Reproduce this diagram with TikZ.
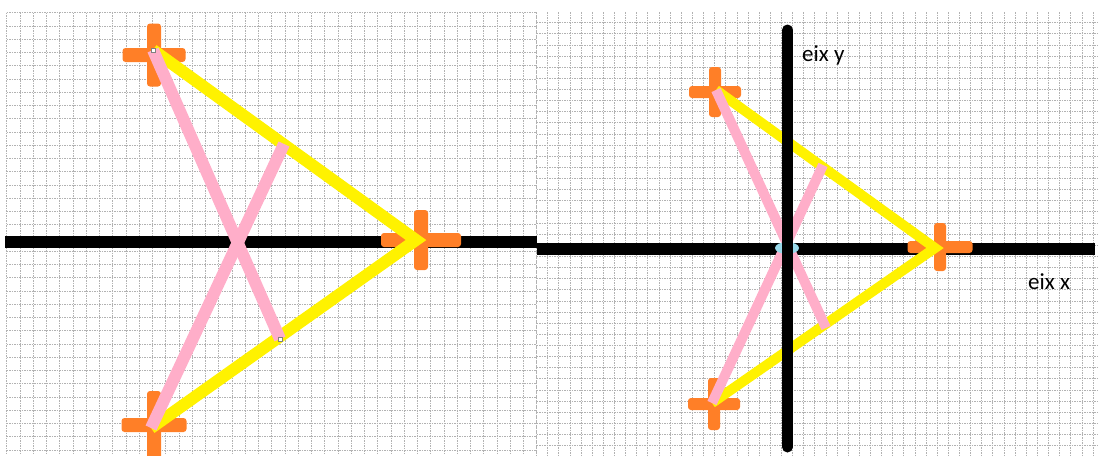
\documentclass[tikz,border=0pt]{standalone}
\usepackage{fontspec}
\setmainfont{Carlito}
\definecolor{paintorange}{HTML}{FF7F27}
\definecolor{paintyellow}{HTML}{FFF200}
\definecolor{paintpink}{HTML}{FFAEC9}
\definecolor{paintcyan}{HTML}{99D9EA}
\tikzset{
  gridline/.style={gray!60,line width=0.9pt,dash pattern=on 1.5pt off 1pt},
  axisline/.style={black,line width=#1},
  sideline/.style={paintyellow,line width=#1},
  medianline/.style={paintpink,line width=#1},
  marker/.style={draw=gray,fill=white,line width=0.8pt,minimum size=4pt,inner sep=0pt},
  axislabel/.style={anchor=base west,inner sep=0pt,font=\fontsize{23}{27}\selectfont},
}

\NewDocumentCommand{\paintcross}{mmmO{14}}{%
\begin{scope}[shift={(#1)}]%
\fill[paintorange,rounded corners=3pt] (-#2/2,-#4/2) rectangle (#2/2,#4/2);
\fill[paintorange,rounded corners=3pt] (-#4/2,-#3/2) rectangle (#4/2,#3/2);
\end{scope}%
}

\begin{document}
\begin{tikzpicture}[x=1pt,y=-1pt]
        \useasboundingbox (0,0) rectangle (1102,455);

        % Left grid.
        \foreach \i in {0,...,40} {\draw[gridline] (6.7+13.25*\i,12.7) -- (6.7+13.25*\i,455);}
        \foreach \j in {0,...,33} {\draw[gridline] (6.7,12.7+13.25*\j) -- (536.7,12.7+13.25*\j);}
        % Right grid.
        \foreach \i in {0,...,50} {\draw[gridline] (536.6+11.13*\i,12) -- (536.6+11.13*\i,455);}
        \foreach \j in {0,...,38} {\draw[gridline] (536.6,22.7+11.13*\j) -- (1099,22.7+11.13*\j);}

        % Left axis.
        \draw[axisline=12pt] (5,242) -- (537,242);

        % Left triangle.
        \coordinate (la) at (153,50);
        \coordinate (lb) at (416,240);
        \coordinate (lc) at (151,428);
        \coordinate (lab) at (284,144);
        \coordinate (lbc) at (280,339);
        \paintcross{154,55}{63}{63}
        \paintcross{421,240}{80}{60}
        \paintcross{154,425}{65}{68}
        \draw[sideline=12pt] (la) -- (lb) -- (lc);
        \draw[medianline=12pt] (la) -- (lbc);
        \draw[medianline=12pt] (lc) -- (lab);
        \node[marker] (lam) at (la) {};
        \node[marker] (lbcm) at (lbc) {};

        % Right axes and triangle.
        \draw[axisline=12pt] (537,249) -- (1095,249);
        \coordinate (ra) at (716,90);
        \coordinate (rb) at (935,248);
        \coordinate (rc) at (712,403);
        \coordinate (rab) at (823,165);
        \coordinate (rbc) at (826,328);
        \paintcross{715,92}{52}{50}[12]
        \paintcross{940,247}{65}{48}[12]
        \paintcross{714,404}{52}{52}[12]
        \draw[sideline=10pt] (ra) -- (rb) -- (rc);
        \draw[medianline=10pt] (ra) -- (rbc);
        \draw[medianline=10pt] (rc) -- (rab);
        \fill[paintcyan] (787,248) ellipse [x radius=12,y radius=6];
        \draw[axisline=11pt,line cap=round] (787.5,30) -- (787.5,447);

        % Axis labels.
        \node[axislabel] (ylab) at (802,61) {eix y};
        \node[axislabel] (xlab) at (1028,289) {eix x};
    \end{tikzpicture}
\end{document}
